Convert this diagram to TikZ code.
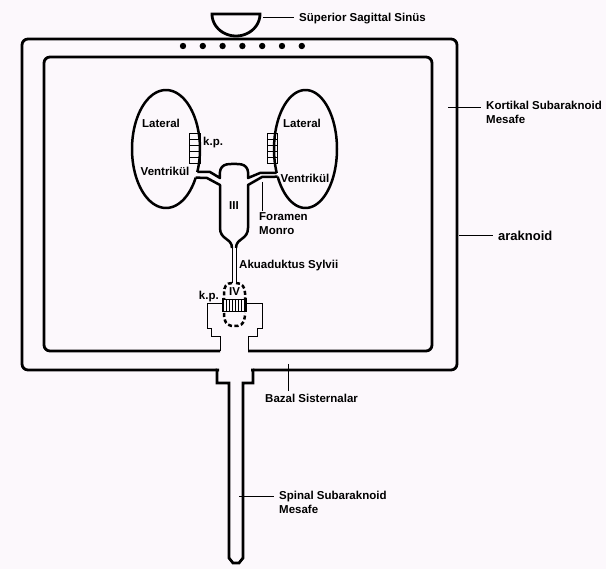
\documentclass[tikz,border=0pt]{standalone}
\usepackage{fontspec}
\setmainfont{Liberation Sans}
\usetikzlibrary{calc}

\definecolor{paper}{RGB}{252,248,252}

\begin{document}
\begin{tikzpicture}[x=1pt, y=-1pt,
    wall/.style={line width=2.8pt, line join=miter},
    duct/.style={line width=2.5pt, line join=round},
    thin/.style={line width=0.9pt},
    ptr/.style={line width=0.9pt, shorten >=4pt},
    lbl/.style={font=\bfseries\fontsize{11.5}{14}\selectfont, inner sep=1pt, align=left}]

    \fill[paper] (0,0) rectangle (606,569);
    \useasboundingbox (0,0) rectangle (606,569);

    % sinus and granulations
    \draw[wall] plot[domain=0:180, samples=40] ({236+24*cos(\x)}, {14+22*sin(\x)}) -- cycle;
    \foreach \i in {0,...,6}
        \fill (183+19.8*\i, 46) circle (3.2);

    % arachnoid
    \draw[wall, rounded corners=6] (217,370) -- (22,370) -- (22,39) -- (457,39)
        -- (457,370) -- (253,370);
    % spinal canal
    \draw[wall] (219,370) -- (217,370) -- (217,383) -- (229,383) -- (229,558)
        -- (233,563) -- (239,563) -- (243,558) -- (243,383) -- (253,383)
        -- (253,370) -- (251,370);

    % inner wall
    \draw[wall, rounded corners=6] (220,351) -- (44,351) -- (44,57) -- (432,57)
        -- (432,351) -- (248,351);

    % lateral ventricles
    \draw[duct] plot[domain=29:383, samples=90] ({166+34*cos(\x)}, {149+59*sin(\x)});
    \draw[duct] plot[domain=156:512, samples=90] ({305.5+31.5*cos(\x)}, {149+59*sin(\x)});
    \foreach \x/\w in {189/11, 267/10} {
        \draw[thin] (\x,133) rectangle ++(\w,30);
        \foreach \y in {139,145,151,157}
            \draw[thin] (\x,\y) -- ++(\w,0);
    }

    % third ventricle
    \draw[duct] (197.3,172) -- (210,172) -- (220,178)
        .. controls (218,163) and (228,164) .. (234,164)
        .. controls (240,164) and (250,163) .. (248,178) -- (260,173) -- (276.7,173);
    \draw[duct] (195.7,177.6) -- (207,178) -- (220,185) -- (220,228)
        .. controls (220,240) and (232,238) .. (232,248);
    \draw[duct] (277.7,176.7) -- (262,177) -- (248,185) -- (248,228)
        .. controls (248,240) and (236,238) .. (236,248);

    % aqueduct
    \draw[thin] (232,248) -- (232,283);
    \draw[thin] (236,248) -- (236,283);

    % fourth ventricle
    \draw[duct, dash pattern=on 4pt off 2.5pt]
        (232,283) .. controls (226,283) and (224,287) .. (224,293) -- (224,299);
    \draw[duct, dash pattern=on 4pt off 2.5pt]
        (236,283) .. controls (242,283) and (245,287) .. (245,293) -- (245,299);
    \draw[duct, dash pattern=on 4pt off 2.5pt]
        (224,313) .. controls (224,326) and (230,326) .. (234.5,326)
        .. controls (239,326) and (245,326) .. (245,313);
    \draw[thin] (223,299) rectangle (246,311);
    \foreach \x in {226,229,...,244}
        \draw[line width=0.7pt] (\x,299) -- (\x,311);
    \draw[line width=2.5pt] (223,298) -- (223,312) (246,298) -- (246,312);

    % housing round IV
    \draw[thin] (222,303) -- (207,303) -- (207,328) -- (211,328) -- (211,336)
        -- (220,336) -- (220,351);
    \draw[thin] (247,303) -- (262,303) -- (262,328) -- (257,328) -- (257,336)
        -- (248,336) -- (248,351);

    % inner labels
    \node[lbl] (latl) at (161,123) {Lateral};
    \node[lbl] (latr) at (302,123) {Lateral};
    \node[lbl] (venl) at (165,171) {Ventrikül};
    \node[lbl] (venr) at (305,178) {Ventrikül};
    \node[lbl, anchor=west] (kpl) at (202,143) {k.p.};
    \node[lbl] (v3) at (234,206) {III};
    \node[lbl] (v4) at (234.5,292) {IV};
    \node[lbl, anchor=east] (kpiv) at (220,297) {k.p.};
    \node[lbl, anchor=west] (aq) at (238,266) {Akuaduktus Sylvii};

    % pointer labels
    \coordinate (sssp) at (263,17);
    \node[lbl, anchor=west] (sss) at (298,19) {Süperior Sagittal Sinüs};
    \draw[ptr] (sssp) -- (sssp -| sss.west);

    \coordinate (ksp) at (448,107);
    \node[lbl, anchor=north west] (ks) at (485,100) {Kortikal Subaraknoid\\Mesafe};
    \draw[ptr] (ksp) -- (ksp -| ks.west);

    \coordinate (arp) at (459,235);
    \node[lbl, font=\bfseries\fontsize{13}{15}\selectfont, anchor=west] (ar) at (497,236) {araknoid};
    \draw[ptr] (arp) -- (arp -| ar.west);

    \coordinate (fmp) at (262,182);
    \node[lbl, anchor=north west] (fm) at (258,211) {Foramen\\Monro};
    \draw[thin] (fmp) -- (fmp |- fm.north);

    \coordinate (bsp) at (288,364);
    \node[lbl, anchor=north west] (bs) at (264,393) {Bazal Sisternalar};
    \draw[ptr, shorten >=2pt] (bsp) -- (bsp |- bs.north);

    \coordinate (ssp) at (239,496);
    \node[lbl, anchor=north west] (ss) at (278,490) {Spinal Subaraknoid\\Mesafe};
    \draw[ptr] (ssp) -- (ssp -| ss.west);
\end{tikzpicture}
\end{document}
